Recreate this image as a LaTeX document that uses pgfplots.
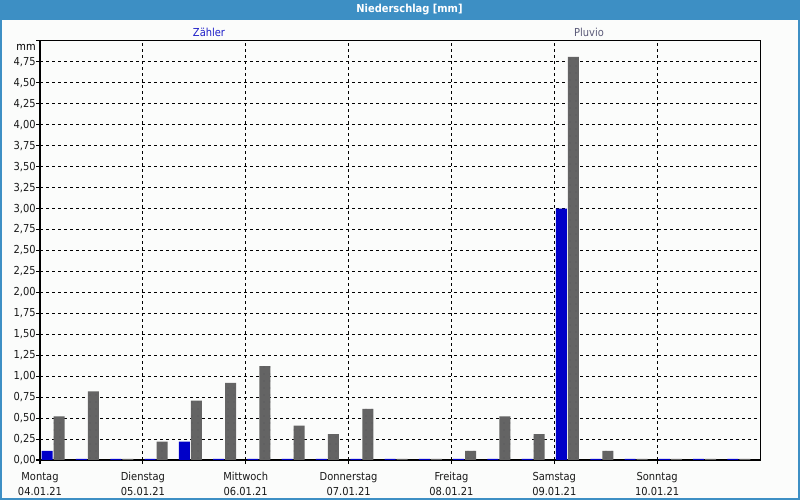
\documentclass[border=0pt]{standalone}
\usepackage{fontspec}
\setmainfont{DejaVu Sans Condensed}
\usepackage{pgfplots}
\pgfplotsset{compat=1.18}
\usepackage{pgfplotstable}
\usetikzlibrary{patterns}

\definecolor{titlebar}{RGB}{61,143,196}
\definecolor{bgc}{RGB}{251,252,251}
\definecolor{zblue}{RGB}{0,0,200}
\definecolor{pgray}{RGB}{100,100,100}
\definecolor{pdot}{RGB}{60,60,64}
\definecolor{ztext}{RGB}{30,30,200}
\definecolor{ptext}{RGB}{90,90,120}

\pgfdeclarepatternformonly{sparsedots}{\pgfqpoint{-1pt}{-1pt}}{\pgfqpoint{1pt}{1pt}}{\pgfqpoint{4.5pt}{5.25pt}}{\pgfpathcircle{\pgfqpoint{0pt}{0pt}}{0.35pt}\pgfusepath{fill}}

\pgfplotstableread{
k z p
0 0.11 0.52
1 0.012 0.82
2 0.012 0.012
3 0.012 0.22
4 0.22 0.71
5 0.012 0.92
6 0.012 1.12
7 0.012 0.41
8 0.012 0.31
9 0.012 0.61
10 0.012 0.012
11 0.012 0.012
12 0.012 0.11
13 0.012 0.52
14 0.012 0.31
15 3.00 4.81
16 0.012 0.11
17 0.012 0.012
18 0.012 0.012
19 0.012 0.012
20 0.012 0.012
}\data

\begin{document}
\begin{tikzpicture}[x=0.75pt,y=0.75pt]
\fill[bgc] (0,0) rectangle (800,500);
\fill[titlebar] (0,480) rectangle (800,500);
\draw[titlebar, line width=1.5pt] (1,1) rectangle (799,499);
\node[white, font=\bfseries\fontsize{8.25}{10}\selectfont] at (409.5,490) {Niederschlag [mm]};
\node[ztext, font=\fontsize{8.25}{10}\selectfont] at (209,468) {Zähler};
\node[ptext, font=\fontsize{8.25}{10}\selectfont] at (589,468) {Pluvio};
\node[anchor=east, inner sep=0pt, font=\fontsize{8.25}{10}\selectfont] at (36,453) {mm};
\begin{axis}[
  at={(30pt,30pt)}, anchor=south west,
  scale only axis, width=540pt, height=314.25pt,
  xmin=-0.385, xmax=20.615, ymin=0, ymax=5,
  xtick={-0.385,2.615,5.615,8.615,11.615,14.615,17.615},
  xticklabels={{Montag\\04.01.21},{Dienstag\\05.01.21},{Mittwoch\\06.01.21},{Donnerstag\\07.01.21},{Freitag\\08.01.21},{Samstag\\09.01.21},{Sonntag\\10.01.21}},
  ytick={0,0.25,0.5,0.75,1,1.25,1.5,1.75,2,2.25,2.5,2.75,3,3.25,3.5,3.75,4,4.25,4.5,4.75,5},
  yticklabels={{0,00},{0,25},{0,50},{0,75},{1,00},{1,25},{1,50},{1,75},{2,00},{2,25},{2,50},{2,75},{3,00},{3,25},{3,50},{3,75},{4,00},{4,25},{4,50},{4,75},{}},
  xmajorgrids, ymajorgrids,
  major grid style={black, dash pattern=on 2.25pt off 2.25pt, line width=0.75pt},
  axis line style={black, line width=0.75pt},
  tick style={black, line width=0.75pt},
  major tick length=3pt,
  tick align=outside,
  xtick pos=bottom, ytick pos=left,
  ticklabel style={font=\fontsize{8.25}{11.25}\selectfont, text=black!90},
  xticklabel style={align=center, inner sep=1pt, yshift=-5pt},
  yticklabel style={inner sep=0pt, xshift=0pt},
]
\addplot[ybar, bar width=8.25pt, bar shift=-4.5pt, fill=zblue, draw=none] table[x=k,y=z]{\data};
\addplot[ybar, bar width=8.25pt, bar shift=4.5pt, fill=pgray, draw=none, postaction={pattern=sparsedots, pattern color=pdot}] table[x=k,y=p]{\data};
\end{axis}
\end{tikzpicture}
\end{document}
